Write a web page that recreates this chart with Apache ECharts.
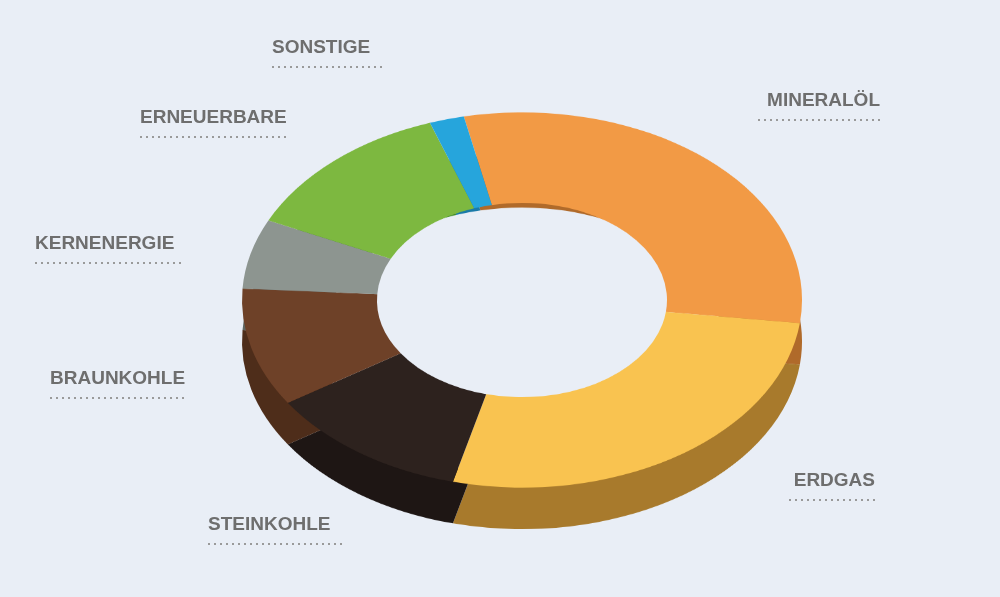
<!DOCTYPE html>
<html><head><meta charset="utf-8">
<script src="https://cdn.jsdelivr.net/npm/echarts@6/dist/echarts.min.js"></script>
<style>
html,body{margin:0;padding:0;background:#e9eef6;}
#wrap{position:relative;width:1000px;height:597px;overflow:hidden;}
#pie{position:absolute;left:0;top:0;width:1000px;height:720px;transform:scaleY(0.67);transform-origin:0 300px;}
#lab{position:absolute;left:0;top:0;width:1000px;height:597px;pointer-events:none;}
</style></head><body>
<div id="wrap"><div id="pie"></div><div id="lab"></div></div>
<script>
const categories=['MINERALÖL','ERDGAS','STEINKOHLE','BRAUNKOHLE','KERNENERGIE','ERNEUERBARE','SONSTIGE'];
const values=[30.3,27,11.8,10.2,6,12.7,2];
const colors=['#f29a45','#f9c350','#2d221e','#6e4128','#8d9590','#7db840','#26a5dc'];
const sideColors=['#b06a2a','#a87a2c','#1e1614','#4e2d1a','#5f6662','#3f8a28','#1a7aa8'];
const labelPos=[[880,110,'right'],[875,490,'right'],[208,534,'left'],[50,388,'left'],[35,253,'left'],[140,127,'left'],[272,57,'left']];

const data=categories.map((c,i)=>({name:c,value:values[i],itemStyle:{color:colors[i]}}));
const side=categories.map((c,i)=>({name:c,value:values[i],itemStyle:{color:sideColors[i]}}));
const pie=echarts.init(document.getElementById('pie'));
pie.setOption({
  animation:false,
  series:[
    {type:'pie',center:[522,362],radius:[200,280],startAngle:102,label:{show:false},labelLine:{show:false},data:side,silent:true},
    {type:'pie',center:[522,300],radius:[145,280],startAngle:102,label:{show:false},labelLine:{show:false},data:data,silent:true}
  ]
});
const lab=echarts.init(document.getElementById('lab'));
const g=[];
categories.forEach((c,i)=>{
  const [x,y,al]=labelPos[i];
  g.push({type:'text',x:x,y:y,style:{text:c,fill:'#6e6e6e',font:'bold 19px "Liberation Sans", Arial',textAlign:al,textVerticalAlign:'bottom'}});
  const w=c.length*12+14;
  const x1=al==='right'?x-w:x, x2=al==='right'?x:x+w;
  g.push({type:'line',shape:{x1:x1,y1:y+10,x2:x2,y2:y+10},style:{stroke:'#9a9a9a',lineWidth:2,lineDash:[2,4]}});
});
lab.setOption({animation:false,graphic:g});
</script></body></html>
